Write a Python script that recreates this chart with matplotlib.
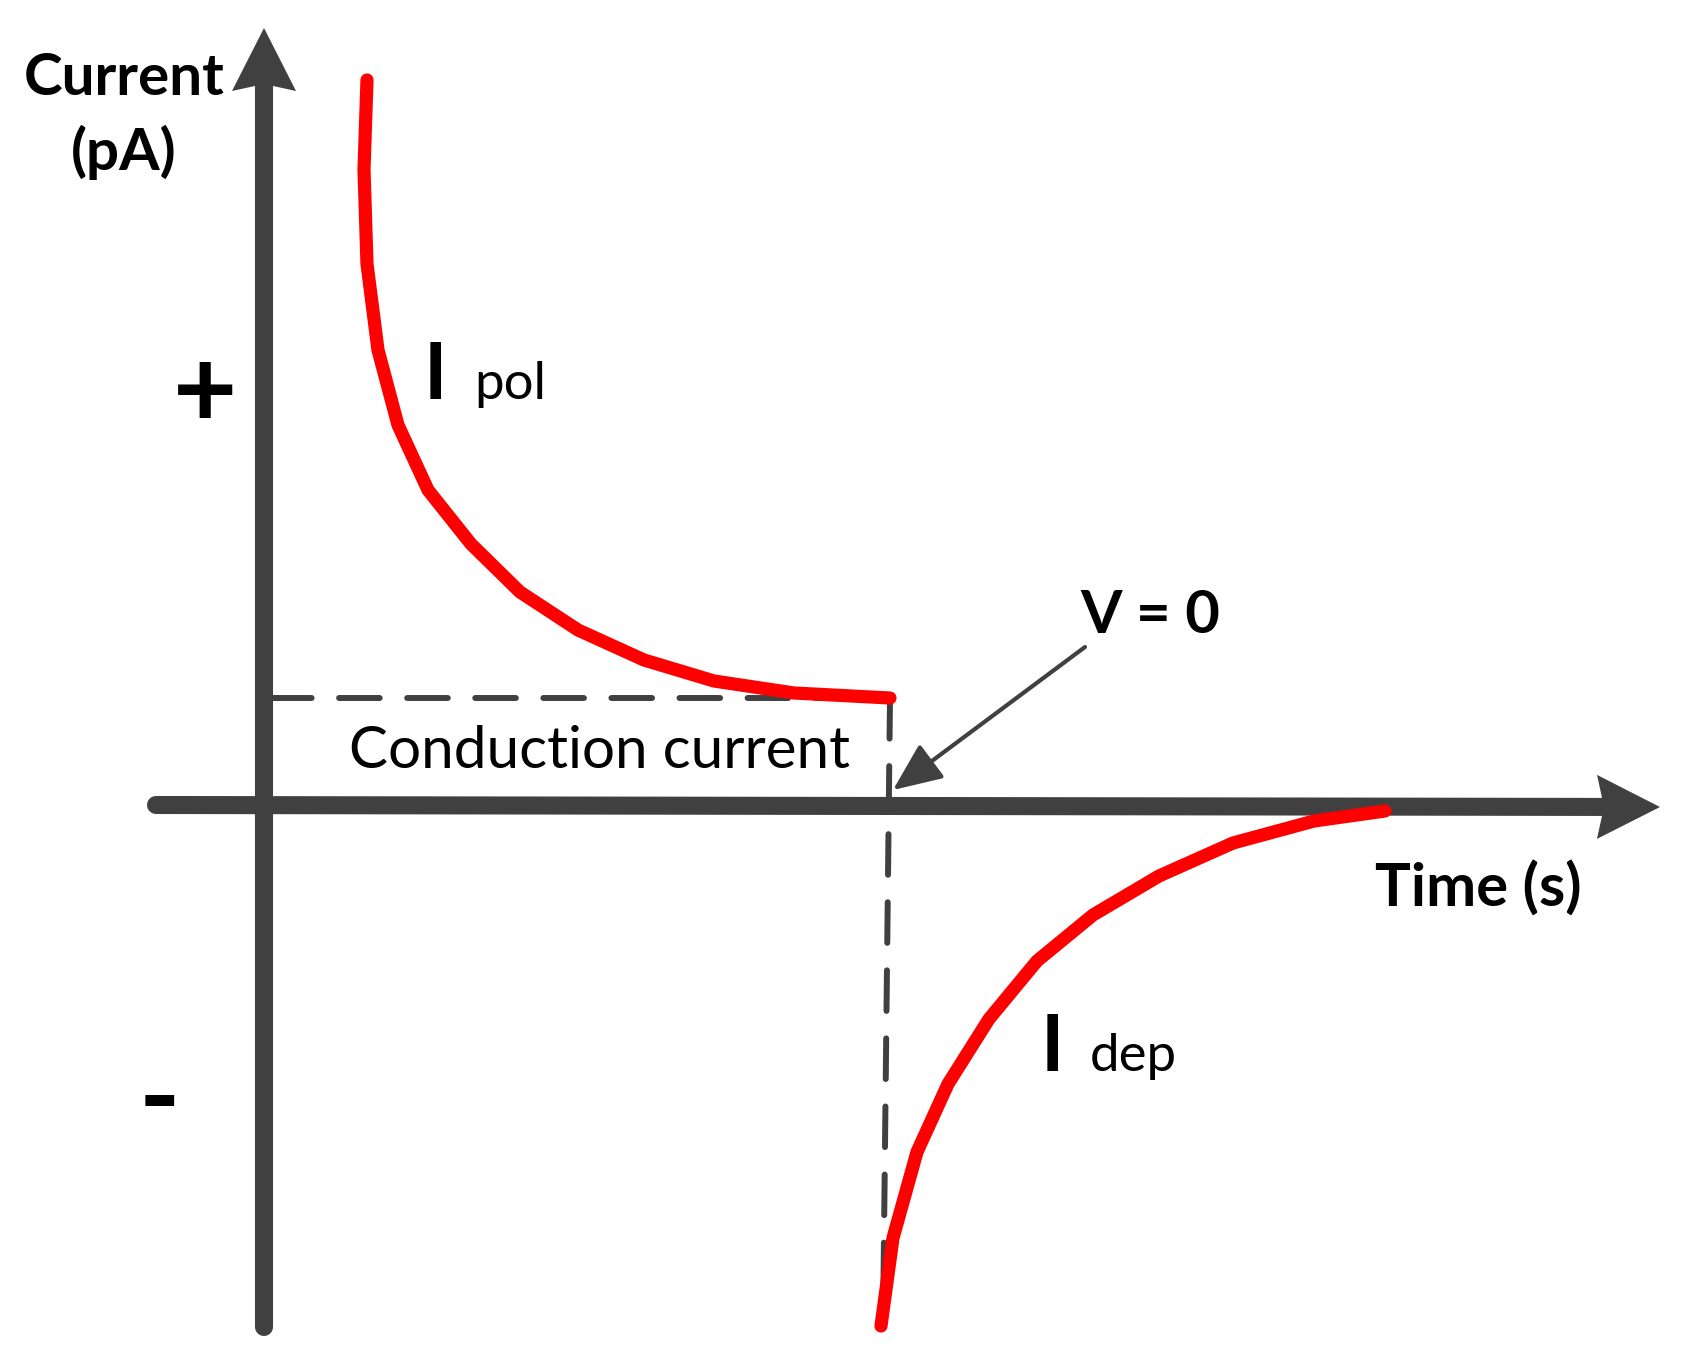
import numpy as np
import matplotlib.pyplot as plt
from matplotlib.patches import Polygon, FancyArrowPatch

plt.rcParams['font.family'] = ['Lato', 'DejaVu Sans']

# schematic units: 1 unit = 100 px, origin where the axes cross
# polarisation current (voltage on)
t_pol = [1.03, 1.00, 1.03, 1.14, 1.34, 1.64, 2.07, 2.56, 3.14, 3.80, 4.50, 5.30, 6.26]
i_pol = [7.25, 6.35, 5.41, 4.55, 3.80, 3.15, 2.61, 2.13, 1.75, 1.45, 1.24, 1.12, 1.07]

# depolarisation current (after V = 0)
t_dep = [6.17, 6.29, 6.53, 6.84, 7.25, 7.73, 8.29, 8.95, 9.69, 10.50, 11.21]
i_dep = [-5.21, -4.33, -3.47, -2.79, -2.14, -1.56, -1.10, -0.71, -0.38, -0.16, -0.06]

i_cond = 1.07      # conduction current level
t_off = 6.26       # time at which voltage is removed

AX_COL = '#404040'

fig = plt.figure(figsize=(16.89, 13.64), dpi=100)
ax = fig.add_axes([0, 0, 1, 1])
ax.set_xlim(-2.64, 14.25)
ax.set_ylim(-5.59, 8.05)
ax.axis('off')

# axes with stealth-style heads
def axis_arrow(x0, y0, x1, y1, head_len=0.63, half_w=0.32, notch=0.07):
    d = np.array([x1 - x0, y1 - y0], dtype=float)
    d /= np.hypot(*d)
    n = np.array([-d[1], d[0]])
    tip = np.array([x1, y1])
    base = tip - d * head_len
    back = base + d * notch
    ax.plot([x0, back[0]], [y0, back[1]], color=AX_COL, lw=13,
            solid_capstyle='round', zorder=2)
    pts = [tip, base + n * half_w, back, base - n * half_w]
    ax.add_patch(Polygon(pts, closed=True, color=AX_COL, lw=0, zorder=3))

axis_arrow(0, -5.22, 0, 7.77)          # current axis
axis_arrow(-1.08, 0.0, 13.96, -0.02)   # time axis

# dashed guides
dash_kw = dict(color=AX_COL, lw=4.3, linestyle=(0, (6.8, 4.6)),
               dash_capstyle='round', zorder=1)
ax.plot([0.07, t_off], [i_cond, i_cond], **dash_kw)
ax.plot([t_off, 6.19], [i_cond, -5.20], **dash_kw)

# current curves
ax.plot(t_pol, i_pol, color='#ff0000', lw=9.5, solid_capstyle='round',
        solid_joinstyle='round', zorder=4)
ax.plot(t_dep, i_dep, color='#ff0000', lw=9.5, solid_capstyle='round',
        solid_joinstyle='round', zorder=4)

# V = 0 pointer
ax.add_patch(FancyArrowPatch((8.21, 1.58), (6.29, 0.15),
                             arrowstyle='-|>,head_length=30,head_width=13',
                             mutation_scale=1, color=AX_COL, lw=3,
                             shrinkA=0, shrinkB=0, zorder=5))

# labels
ax.text(-1.40, 7.10, 'Current', fontsize=42, fontweight='bold',
        ha='center', va='baseline')
ax.text(-1.40, 6.35, '(pA)', fontsize=42, fontweight='bold',
        ha='center', va='baseline')
ax.text(-0.59, 4.10, '+', fontsize=80, fontweight='bold',
        ha='center', va='center')
ax.text(-1.05, -2.97, '-', fontsize=80, fontweight='bold',
        ha='center', va='center')

ax.text(1.60, 4.06, 'I', fontsize=57, fontweight='bold', va='baseline')
ax.text(2.10, 4.06, 'pol', fontsize=38, va='baseline')
ax.text(7.77, -2.66, 'I', fontsize=57, fontweight='bold', va='baseline')
ax.text(8.26, -2.66, 'dep', fontsize=38, va='baseline')

ax.text(8.16, 1.72, 'V = 0', fontsize=43, fontweight='bold', va='baseline')
ax.text(0.85, 0.37, 'Conduction current', fontsize=42, va='baseline')
ax.text(11.11, -1.02, 'Time (s)', fontsize=43, fontweight='bold', va='baseline')

fig.savefig('out.png', dpi=100, facecolor='white')
